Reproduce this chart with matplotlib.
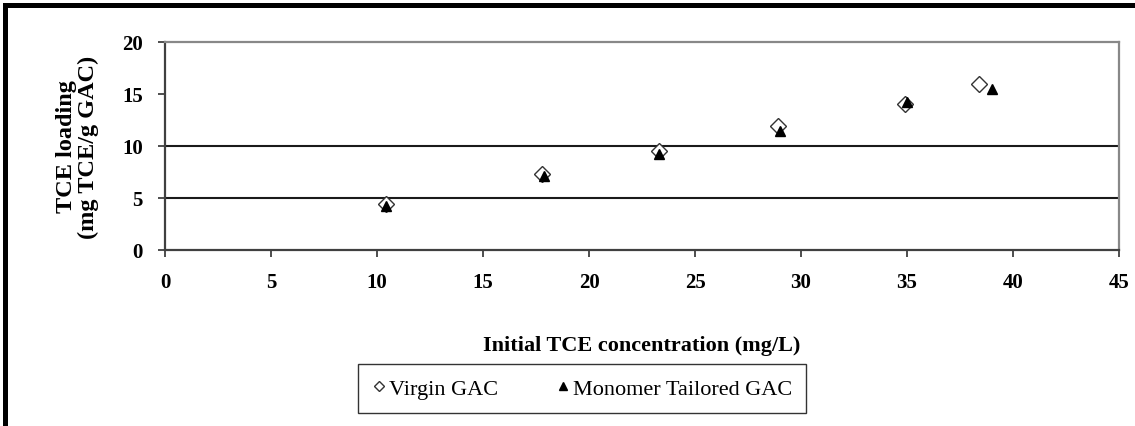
"""
TCE loading vs initial TCE concentration: virgin vs monomer-tailored GAC.
"""

import matplotlib
matplotlib.use("Agg")
import matplotlib.pyplot as plt
from matplotlib.patches import Rectangle

# ── Data ────────────────────────────────────────────────────────────────────
virgin_conc = [10.4, 17.8, 23.3, 28.9, 34.9, 38.4]
virgin_load = [4.4, 7.3, 9.5, 11.9, 14.0, 16.0]

monomer_conc = [10.4, 17.9, 23.3, 29.0, 35.0, 39.0]
monomer_load = [4.2, 7.1, 9.2, 11.4, 14.2, 15.5]

x_ticks = [0, 5, 10, 15, 20, 25, 30, 35, 40, 45]
y_ticks = [0, 5, 10, 15, 20]
grid_y = [5, 10]

# ── Style ───────────────────────────────────────────────────────────────────
plt.rcParams["font.family"] = ["Liberation Serif", "DejaVu Serif"]

fig = plt.figure(figsize=(11.35, 4.27), dpi=100)
ax = fig.add_axes([0.1454, 0.4122, 0.8405, 0.4871])

ax.plot(virgin_conc, virgin_load, linestyle="none", marker="D", markersize=8,
        markerfacecolor="white", markeredgecolor="#333333", markeredgewidth=1.0,
        label="Virgin GAC", zorder=3)
ax.plot(monomer_conc, monomer_load, linestyle="none", marker="^", markersize=7.5,
        markerfacecolor="black", markeredgecolor="black",
        label="Monomer Tailored GAC", zorder=4)

for gy in grid_y:
    ax.axhline(gy, color="#1a1a1a", linewidth=1.5, zorder=1)

ax.set_xlim(0, 45)
ax.set_ylim(0, 20)
ax.set_xticks(x_ticks)
ax.set_yticks(y_ticks)
ax.tick_params(direction="out", length=5, width=1.3, color="#404040",
               labelsize=15, pad=11)
for lab in ax.get_xticklabels() + ax.get_yticklabels():
    lab.set_fontweight("bold")

for side in ("left", "bottom"):
    ax.spines[side].set_color("#404040")
    ax.spines[side].set_linewidth(1.6)
for side in ("top", "right"):
    ax.spines[side].set_color("#888888")
    ax.spines[side].set_linewidth(1.6)

ax.set_xlabel("Initial TCE concentration (mg/L)", fontsize=16,
              fontweight="bold", labelpad=31)
ax.set_ylabel("TCE loading\n(mg TCE/g GAC)", fontsize=17.5,
              fontweight="bold", linespacing=1.05)
ax.yaxis.set_label_coords(-0.069, 0.5)

leg = fig.legend(loc="center", bbox_to_anchor=(0.513, 0.088), ncol=2,
                 frameon=True, fancybox=False, edgecolor="black",
                 fontsize=16, handlelength=0.6, handletextpad=0.15,
                 columnspacing=2.6, markerscale=0.7, borderpad=0.65)
leg.get_frame().set_linewidth(1.0)

# thick black frame on the left and top edges of the original crop
fig.add_artist(Rectangle((3 / 1135, 0), 5 / 1135, 1 - 4 / 427,
                         transform=fig.transFigure, color="black", lw=0))
fig.add_artist(Rectangle((3 / 1135, 1 - 9 / 427), 1, 5 / 427,
                         transform=fig.transFigure, color="black", lw=0))

fig.savefig("out.png", dpi=100)
